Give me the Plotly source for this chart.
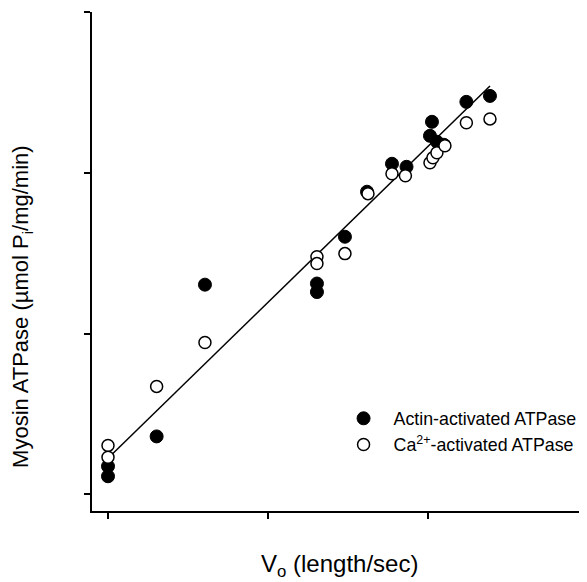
import plotly.graph_objects as go

# Actin-activated ATPase (filled)
actin_x = [0.0, 0.0, 0.304, 0.606, 1.306, 1.306, 1.481, 1.619, 1.775, 1.866, 2.025, 2.0125, 2.056, 2.10, 2.24, 2.3875]
actin_y = [0.112, 0.174, 0.360, 1.304, 1.311, 1.258, 1.602, 1.882, 2.056, 2.037, 2.317, 2.230, 2.193, 2.174, 2.441, 2.478]

# Ca2+-activated ATPase (open)
ca_x = [0.0, 0.0, 0.304, 0.606, 1.306, 1.306, 1.481, 1.625, 1.775, 1.859, 2.0125, 2.031, 2.056, 2.106, 2.24, 2.3875]
ca_y = [0.304, 0.230, 0.671, 0.944, 1.478, 1.435, 1.497, 1.870, 1.994, 1.981, 2.062, 2.093, 2.124, 2.168, 2.311, 2.335]

# Regression line endpoints
fit_x = [0.0, 2.3875]
fit_y = [0.224, 2.54]

x_ticks = [0, 1, 2, 3]
y_ticks = [0, 1, 2, 3]

fig = go.Figure()
fig.add_trace(go.Scatter(x=fit_x, y=fit_y, mode="lines",
                         line=dict(color="black", width=1.5), showlegend=False, hoverinfo="skip"))
fig.add_trace(go.Scatter(x=actin_x, y=actin_y, mode="markers", name="Actin-activated ATPase",
                         marker=dict(size=13, color="black", line=dict(color="black", width=1))))
fig.add_trace(go.Scatter(x=ca_x, y=ca_y, mode="markers", name="Ca<sup>2+</sup>-activated ATPase",
                         marker=dict(size=12, color="white", line=dict(color="black", width=1.5))))

axis_common = dict(showgrid=False, zeroline=False, showline=True, linecolor="black", linewidth=2,
                   ticks="outside", ticklen=6, tickwidth=1.5, tickcolor="black", showticklabels=False)

fig.update_layout(
    width=579, height=574,
    margin=dict(l=84, r=0, t=4, b=71, autoexpand=False),
    paper_bgcolor="white", plot_bgcolor="white",
    font=dict(family="Liberation Sans, Arial, sans-serif", color="black", size=16),
    xaxis=dict(range=[-0.1, 2.994], tickvals=x_ticks, **axis_common),
    yaxis=dict(range=[-0.104, 3.0], tickvals=y_ticks, **axis_common),
    legend=dict(x=0.488, y=0.222, xanchor="left", yanchor="top", itemwidth=50,
                bgcolor="rgba(0,0,0,0)", font=dict(size=17.8), tracegroupgap=0),
    annotations=[
        dict(text="V<sub>o</sub> (length/sec)", xref="paper", yref="paper", x=0.5, y=-0.074,
             xanchor="center", yanchor="top", showarrow=False, font=dict(size=24)),
        dict(text="Myosin ATPase (µmol P<sub>i</sub>/mg/min)", xref="paper", yref="paper",
             x=-0.1414, y=0.409, xanchor="center", yanchor="middle", textangle=-90,
             showarrow=False, font=dict(size=22)),
    ],
)

fig.write_html("out.html")
